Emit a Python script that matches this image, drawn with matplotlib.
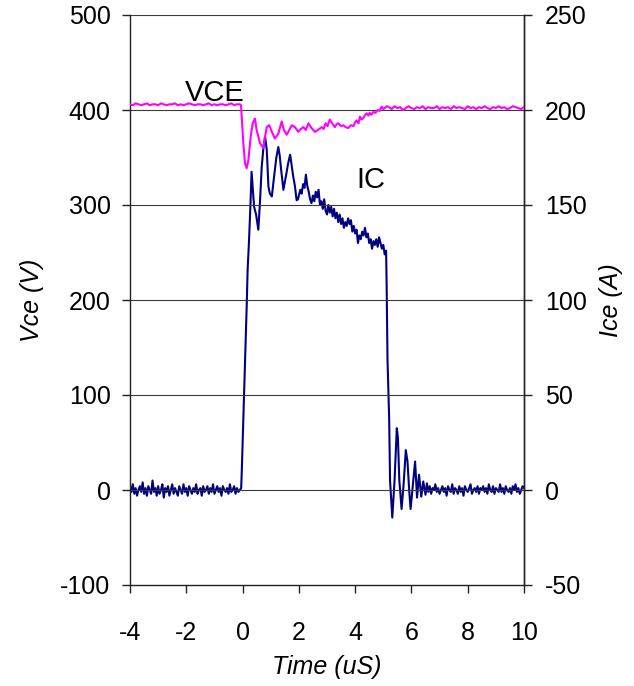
import matplotlib
matplotlib.use("Agg")
import matplotlib.pyplot as plt

plt.rcParams['font.family'] = ['Liberation Sans', 'DejaVu Sans']
plt.rcParams['axes.unicode_minus'] = False

# ---------------- data ----------------
# Collector current IC (A), plotted against right axis
ic_pre_t = [round(-4.0 + 0.05 * i, 2) for i in range(80)]
ic_pre = [2, -1, 3, -2, 1, -3, 0, 2, -1, 4, -2, 1, -3, 2, 0, -2, 5, -1, 1, -3,
          2, -2, 0, 3, -4, 1, -1, 2, -3, 0, 3, -2, 1, -1, -3, 2, 0, -2, 3, -1,
          1, -3, 2, 0, -2, 1, -1, 3, -2, 0, 1, -3, 2, -1, 0, 2, -2, 1, -1, 3,
          -2, 0, 2, -1, 1, -3, 2, 0, -1, 1, -2, 3, -1, 0, 2, -2, 1, -1, 0, 1]

ic_main_t = [-0.03, 0.05, 0.15, 0.18, 0.23, 0.28, 0.32, 0.41, 0.48, 0.56,
             0.62, 0.68, 0.74, 0.80, 0.86, 0.92, 0.97, 1.04, 1.08, 1.12, 1.20,
             1.27, 1.32, 1.36, 1.45, 1.50, 1.55, 1.62, 1.69, 1.75, 1.80, 1.86,
             1.92, 1.97,
             2.00, 2.05, 2.10, 2.15, 2.20, 2.25, 2.30, 2.35, 2.40, 2.45, 2.50,
             2.55, 2.60, 2.65, 2.70, 2.75, 2.80, 2.85, 2.90, 2.95, 3.00, 3.05,
             3.10, 3.15, 3.20, 3.25, 3.30, 3.35, 3.40, 3.45, 3.50, 3.55, 3.60,
             3.65, 3.70, 3.75, 3.80, 3.85, 3.90, 3.95, 4.00, 4.05, 4.10, 4.15,
             4.20, 4.25, 4.30, 4.35, 4.40, 4.45, 4.50, 4.55, 4.60, 4.65, 4.70,
             4.75, 4.80, 4.85, 4.90, 4.95, 5.00, 5.05, 5.10,
             5.12, 5.15, 5.21, 5.24, 5.32, 5.40, 5.48, 5.52, 5.57, 5.65, 5.72,
             5.80, 5.86, 5.92, 5.97, 6.05, 6.13, 6.20, 6.27, 6.35, 6.42, 6.50,
             6.55]
ic_main = [9, 49, 98.5, 116, 131.5, 150, 167.5, 149, 145, 137,
           152, 170, 180, 186, 179, 159.5, 156, 154.5, 160, 165, 175,
           180.5, 176, 170, 158, 162, 166, 172, 176.5, 170, 165, 160,
           152.5, 153,
           155, 158, 156, 161, 159, 166, 160, 157, 153, 151, 155,
           152, 157, 154, 158, 150, 152, 148, 153, 147, 145, 150,
           146, 149, 144, 148, 143, 146, 141, 145, 140, 143, 138,
           141, 139, 143, 140, 142, 136, 139, 135, 137, 130, 134,
           132, 136, 134, 138, 133, 135, 130, 132, 127, 131, 129,
           132, 128, 133, 130, 127, 129, 124, 126,
           107, 68.5, 37, 5, -14.5, 5, 32.5, 27.5, 5, -10, 2.5,
           21, 15, 0, -10, 2.5, 15, -4, 8, -3.5, 4.5, -2.5,
           3.5]

ic_post_t = [round(6.6 + 0.05 * i, 2) for i in range(69)]
ic_post = [-1, 2, -2, 1, 0, 3, -1, 1, -2, 0, 2, -1, 1, -3, 2, 0, -1, 3, -2, 1,
           0, -2, 2, -1, 1, -3, 2, 0, -1, 1, 3, -2, 0, 1, -1, 2, -2, 1, 0, 2,
           -1, 1, -2, 3, 0, -1, 2, -2, 1, 0, -1, 3, -1, 1, -2, 2, 0, -1, 1, -2,
           2, 0, 3, -1, 1, -2, 0, 2, 1]

# Collector-emitter voltage VCE (V), plotted against left axis
vce_pre_t = [round(-4.0 + 0.1 * i, 2) for i in range(40)]
vce_pre = [406, 405, 407, 406, 405, 406, 407, 405, 406, 406, 405, 407, 406, 405,
           406, 406, 407, 405, 406, 405, 406, 407, 406, 405, 406, 406, 405, 406,
           407, 405, 406, 405, 406, 406, 405, 406, 407, 405, 406, 406]

vce_main_t = [-0.055, 0.027, 0.087, 0.146, 0.205, 0.288, 0.36, 0.44, 0.50, 0.62,
              0.74, 0.80, 0.86, 0.95, 1.04, 1.15, 1.27, 1.39, 1.47, 1.57, 1.75,
              1.86, 1.98, 2.07, 2.16, 2.25, 2.34, 2.45, 2.57, 2.68, 2.81, 2.88,
              2.95, 3.02, 3.10, 3.20, 3.28, 3.34, 3.40, 3.50, 3.58, 3.66, 3.75,
              3.85, 3.94, 4.00, 4.05, 4.12, 4.17, 4.23, 4.30, 4.36, 4.41, 4.47,
              4.52, 4.58, 4.65, 4.72, 4.80, 4.87, 4.94, 5.00, 5.05, 5.12]
vce_main = [405, 365, 344, 338.6, 347, 372, 386, 391, 379, 365,
            360, 372, 382, 384, 377, 370, 375, 388, 379, 374, 384,
            382, 377, 380, 382, 379, 386, 381, 377, 379, 382, 380,
            386, 383, 390, 385, 382, 385, 386, 383, 384, 382, 381,
            384, 383, 387, 389, 386, 393, 390, 392, 395, 396.5, 394,
            397, 395, 398, 397, 400, 399, 403.5, 401, 402, 404]

vce_post_t = [round(5.2 + 0.1 * i, 2) for i in range(49)]
vce_post = [403, 401, 404, 402, 403, 400, 402, 404, 402, 401, 403, 402, 404, 401,
            403, 402, 402, 404, 401, 403, 402, 403, 401, 404, 402, 403, 402, 401,
            404, 402, 403, 401, 403, 402, 404, 402, 401, 403, 402, 404, 402, 403,
            401, 402, 404, 403, 402, 401, 403]

x_ticks = [-4, -2, 0, 2, 4, 6, 8, 10]
v_ticks = [-100, 0, 100, 200, 300, 400, 500]
i_ticks = [-50, 0, 50, 100, 150, 200, 250]

t_ic = ic_pre_t + ic_main_t + ic_post_t
ic = ic_pre + ic_main + ic_post
t_vce = vce_pre_t + vce_main_t + vce_post_t
vce = vce_pre + vce_main + vce_post

# ---------------- figure ----------------
fig = plt.figure(figsize=(6.34, 6.86), dpi=100)
ax = fig.add_axes([130 / 634, 1 - 585 / 686, 394 / 634, 570 / 686])
ax2 = ax.twinx()

grid_c = '#3a3a3a'
for v in v_ticks[1:]:
    ax.axhline(v, color=grid_c, lw=0.8, zorder=1)

ax.plot(t_vce, vce, color='#FF00FF', lw=1.5, zorder=3)
ax2.plot(t_ic, ic, color='#000080', lw=1.5, zorder=3)

ax.set_xlim(-4, 10)
ax.set_ylim(-100, 500)
ax2.set_ylim(-50, 250)
ax.set_xticks(x_ticks)
ax.set_yticks(v_ticks)
ax2.set_yticks(i_ticks)

for a in (ax, ax2):
    a.spines['top'].set_visible(False)
    for s in a.spines.values():
        s.set_color('#222222')
        s.set_linewidth(1.0)
ax2.spines['left'].set_visible(False)
ax2.spines['bottom'].set_visible(False)

ax.tick_params(axis='both', direction='out', length=6, width=1.0, color='#222222',
               labelsize=18)
ax.tick_params(axis='y', pad=8)
ax.tick_params(axis='x', pad=20)
ax2.tick_params(axis='y', direction='out', length=6, width=1.0, color='#222222',
                labelsize=18, pad=9)

ax.set_ylabel('Vce (V)', fontsize=18, style='italic', labelpad=12)
ax2.set_ylabel('Ice (A)', fontsize=18, style='italic', labelpad=9)
ax.set_xlabel('Time (uS)', fontsize=18, style='italic', labelpad=7)

ax.text(-1.0, 409, 'VCE', fontsize=21, ha='center', va='baseline', zorder=5)
ax.text(4.55, 318, 'IC', fontsize=21, ha='center', va='baseline', zorder=5)

ax.set_zorder(ax2.get_zorder() + 1)
ax.patch.set_visible(False)

fig.savefig('out.png', dpi=100)
